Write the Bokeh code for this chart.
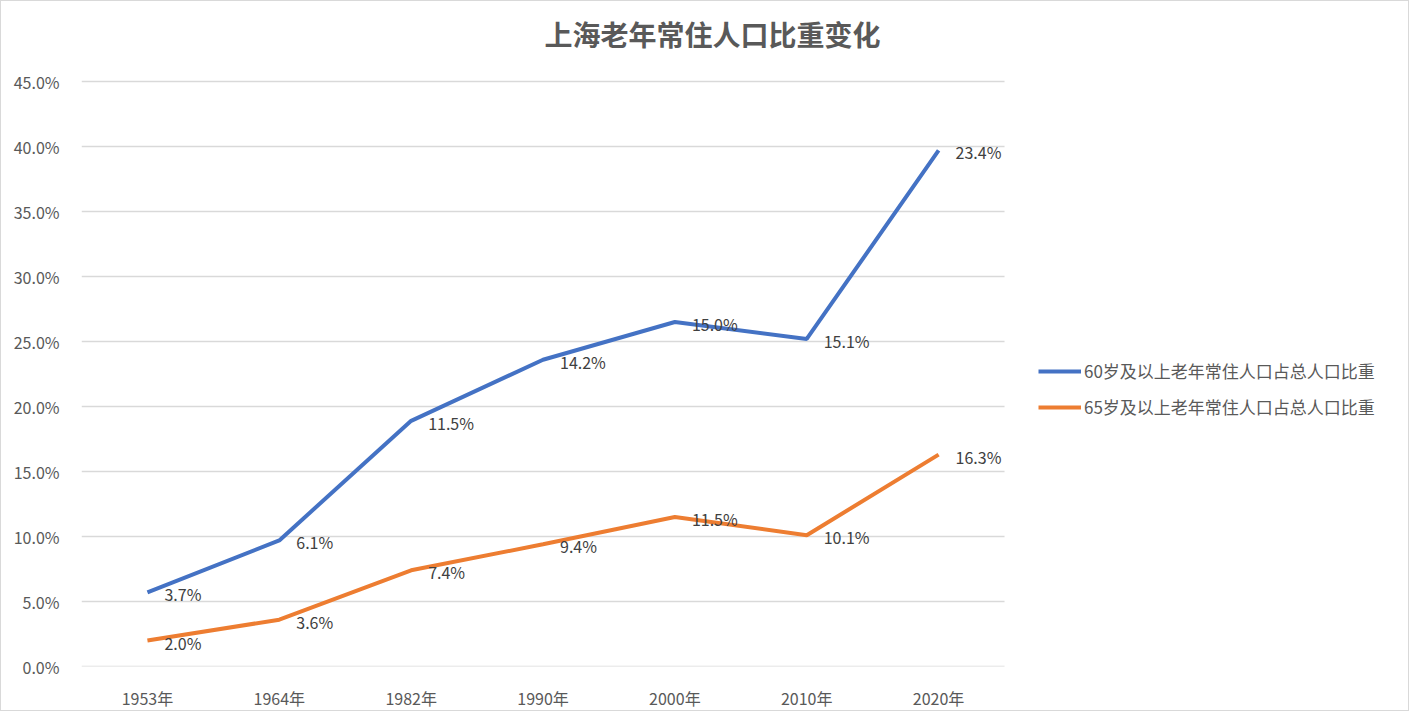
from bokeh.plotting import figure
from bokeh.models import (ColumnDataSource, LabelSet, Label, Legend, LegendItem,
                          NumeralTickFormatter, FixedTicker, Range1d)
from bokeh.core.properties import value
from bokeh.embed import file_html
from bokeh.resources import INLINE

years = ["1953年", "1964年", "1982年", "1990年", "2000年", "2010年", "2020年"]
share_60 = [3.7, 6.1, 11.5, 14.2, 15.0, 15.1, 23.4]
share_65 = [2.0, 3.6, 7.4, 9.4, 11.5, 10.1, 16.3]
y_ticks = [0, 5, 10, 15, 20, 25, 30, 35, 40, 45]

name_60 = "60岁及以上老年常住人口占总人口比重"
name_65 = "65岁及以上老年常住人口占总人口比重"
title = "上海老年常住人口比重变化"

FONT = "Noto Sans CJK SC"
BLUE = "#4472C4"
ORANGE = "#ED7D31"
GRID = "#d9d9d9"

# excel stacked line: the 60+ series sits on top of the 65+ series
stacked_60 = [a + b for a, b in zip(share_60, share_65)]
xpos = [i + 0.5 for i in range(len(years))]

src = ColumnDataSource(data=dict(
    x=xpos,
    y60=[v / 100 for v in stacked_60],
    y65=[v / 100 for v in share_65],
    lab60=["%.1f%%" % v for v in share_60],
    lab65=["%.1f%%" % v for v in share_65],
))

# plot area is widened to the right and top so that legend and title fit inside it
p = figure(x_range=Range1d(0, 10.018), y_range=Range1d(0, 0.5116),
           width=1409, height=711, title=None,
           output_backend="svg", toolbar_location=None,
           min_border_left=80, min_border_right=8,
           min_border_top=0, min_border_bottom=38)
p.outline_line_color = None
p.background_fill_color = "white"
p.border_fill_color = "white"
p.styles = {"border": "1.5px solid #d9d9d9", "box-sizing": "border-box"}

# horizontal gridlines only across the category area
n = len(years)
gy = [t / 100 for t in y_ticks]
p.segment(x0=[0] * len(gy), x1=[n] * len(gy), y0=gy, y1=gy,
          line_color=GRID, line_width=1.5)

r60 = p.line("x", "y60", source=src, line_width=4, color=BLUE)
r65 = p.line("x", "y65", source=src, line_width=4, color=ORANGE)

for col, lab in (("y60", "lab60"), ("y65", "lab65")):
    p.add_layout(LabelSet(x="x", y=col, text=lab, source=src,
                          x_offset=17, y_offset=-2,
                          text_align="left", text_baseline="middle",
                          text_font=value(FONT), text_font_size=value("16px"),
                          text_color="#404040"))

p.yaxis.ticker = FixedTicker(ticks=gy)
p.yaxis.formatter = NumeralTickFormatter(format="0.0%")
p.yaxis.axis_line_color = None
p.yaxis.major_tick_line_color = None
p.yaxis.minor_tick_line_color = None
p.yaxis.major_label_text_font = FONT
p.yaxis.major_label_text_font_size = "16px"
p.yaxis.major_label_text_color = "#595959"
p.yaxis.major_label_standoff = 16

p.xaxis.ticker = FixedTicker(ticks=xpos)
p.xaxis.major_label_overrides = {x: y for x, y in zip(xpos, years)}
p.xaxis.bounds = (0, n)
p.xaxis.axis_line_color = None
p.xaxis.major_tick_line_color = None
p.xaxis.minor_tick_line_color = None
p.xaxis.major_label_text_font = FONT
p.xaxis.major_label_text_font_size = "16px"
p.xaxis.major_label_text_color = "#595959"
p.xaxis.major_label_standoff = 13

p.xgrid.grid_line_color = None
p.ygrid.grid_line_color = None

p.add_layout(Label(x=4.785, y=0.4865, text=title,
                   text_align="center", text_baseline="middle",
                   text_font=FONT, text_font_size="28px",
                   text_font_style="bold", text_color="#595959"))

legend = Legend(items=[LegendItem(label=name_60, renderers=[r60]),
                       LegendItem(label=name_65, renderers=[r65])],
                location=(957, 247), glyph_width=43, glyph_height=16,
                label_text_font=FONT, label_text_font_size="17px",
                label_text_color="#595959", spacing=11, padding=0,
                label_standoff=3, border_line_color=None,
                background_fill_alpha=0)
p.add_layout(legend)

open("out.html", "w").write(file_html(p, INLINE))
